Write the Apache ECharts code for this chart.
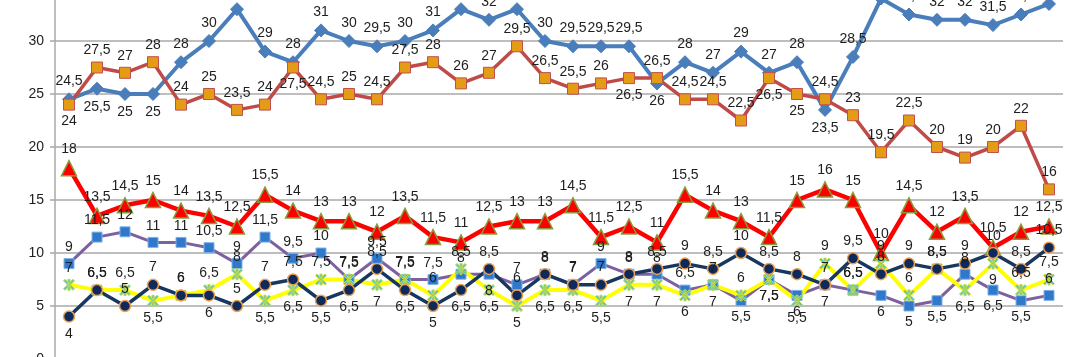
<!DOCTYPE html>
<html>
<head>
<meta charset="utf-8">
<script src="https://cdn.jsdelivr.net/npm/echarts@6/dist/echarts.min.js"></script>
<style>
html,body{margin:0;padding:0;background:#fff;overflow:hidden;width:1070px;height:357px;}
#c{position:absolute;left:0;top:-19px;width:1070px;height:390px;}
</style>
</head>
<body>
<div id="c"></div>
<script>
var categories = ['1','2','3','4','5','6','7','8','9','10','11','12','13','14','15','16','17','18','19','20','21','22','23','24','25','26','27','28','29','30','31','32','33','34','35','36'];
var yTicks = [0, 5, 10, 15, 20, 25, 30, 35];

var blueValues   = [24.5,25.5,25,25,28,30,33,29,28,31,30,29.5,30,31,33,32,33,30,29.5,29.5,29.5,26,28,27,29,27,28,23.5,28.5,34,32.5,32,32,31.5,32.5,33.5];
var orangeValues = [24,27.5,27,28,24,25,23.5,24,27.5,24.5,25,24.5,27.5,28,26,27,29.5,26.5,25.5,26,26.5,26.5,24.5,24.5,22.5,26.5,25,24.5,23,19.5,22.5,20,19,20,22,16];
var redValues    = [18,13.5,14.5,15,14,13.5,12.5,15.5,14,13,13,12,13.5,11.5,11,12.5,13,13,14.5,11.5,12.5,11,15.5,14,13,11.5,15,16,15,10,14.5,12,13.5,10.5,12,12.5];
var purpleValues = [9,11.5,12,11,11,10.5,9,11.5,9.5,10,7.5,9.5,7.5,7.5,8,8,7,8,7,9,8,8,6.5,7,5.5,7.5,6,7,6.5,6,5,5.5,8,6.5,5.5,6];
var navyValues   = [4,6.5,5,7,6,6,5,7,7.5,5.5,6.5,8.5,6.5,5,6.5,8.5,6,8,7,7,8,8.5,9,8.5,10,8.5,8,7,9.5,8,9,8.5,9,10,8.5,10.5];
var yellowValues = [7,6.5,6.5,5.5,6,6.5,8,5.5,6.5,7.5,7.5,7,7.5,6,8.5,6.5,5,6.5,6.5,5.5,7,7,6,7,6,7.5,5.5,9,6.5,9,6,8.5,6.5,9,6.5,7.5];

// label placement per point (t = above, b = below) -- styling only
var blueLabelPos   = 't' + 'bbb' + 'ttttttttttttttttt' + 'b' + 'ttttt' + 'b' + 'tttttttt';
var orangeLabelPos = 'b' + 'ttttttt' + 'b' + 'ttttttttttt' + 'b' + 'tttt' + 'bb' + 'ttttttttt';
var redLabelPos    = 'tttttttttttttttttttttttttttttttttttt';
var purpleLabelPos = 'ttttttttttttttt' + 'b' + 'tttttttt' + 'bbb' + 'tt' + 'bbb' + 't' + 'bb' + 't';
var navyLabelPos   = 'b' + 'tttt' + 'b' + 'ttt' + 'bb' + 't' + 'bbb' + 'tttttttttttt' + 'b' + 'tttttttt';
var yellowLabelPos = 'ttt' + 'b' + 'ttt' + 'bb' + 'tt' + 'b' + 'ttt' + 'bbbbbbbbb' + 't' + 'bb' + 'ttttt' + 'bb' + 'tt';

function items(vals, pos) {
  return vals.map(function (v, i) {
    return { value: v, label: { position: pos.charAt(i) === 'b' ? 'bottom' : 'top' } };
  });
}

var labelStyle = {
  show: true,
  fontFamily: 'Liberation Sans, Arial, sans-serif',
  fontSize: 14,
  color: '#1e1e1e',
  distance: 4,
  formatter: function (p) { return String(p.value).replace('.', ','); }
};

var starPath = 'path://M4 0 L6 0 L6 10 L4 10 Z M0 1.4 L1.4 0 L10 8.6 L8.6 10 Z M1.4 10 L0 8.6 L8.6 0 L10 1.4 Z';

function series(name, vals, pos, lineColor, lineWidth, symbol, size, fill, border, bw) {
  return {
    name: name,
    type: 'line',
    data: items(vals, pos),
    symbol: symbol,
    symbolSize: size,
    showAllSymbol: true,
    lineStyle: { color: lineColor, width: lineWidth },
    itemStyle: { color: fill, borderColor: border, borderWidth: bw },
    label: labelStyle,
    emphasis: { disabled: true },
    animation: false
  };
}

var chart = echarts.init(document.getElementById('c'), null, { renderer: 'canvas' });
chart.setOption({
  animation: false,
  backgroundColor: '#ffffff',
  grid: { left: 55, top: 0, width: 1008, height: 378, containLabel: false },
  xAxis: {
    type: 'category',
    data: categories,
    boundaryGap: true,
    axisLine: { show: false },
    axisTick: { show: false },
    axisLabel: { show: false },
    splitLine: { show: false }
  },
  yAxis: {
    type: 'value',
    min: yTicks[0],
    max: yTicks[yTicks.length - 1],
    interval: 5,
    axisLine: { show: true, lineStyle: { color: '#a8a8a8', width: 1.5 } },
    axisTick: { show: true, length: 5, lineStyle: { color: '#a8a8a8', width: 1.5 } },
    axisLabel: {
      margin: 11,
      fontFamily: 'Liberation Sans, Arial, sans-serif',
      fontSize: 14,
      color: '#1e1e1e'
    },
    splitLine: { show: true, lineStyle: { color: '#a8a8a8', width: 1.5 } }
  },
  series: [
    series('A', blueValues, blueLabelPos, '#4a7ebb', 4, 'diamond', 13, '#4a7ebb', '#4a7ebb', 1),
    series('B', orangeValues, orangeLabelPos, '#be4b48', 3.5, 'rect', 11, '#e49b16', '#c0504d', 1),
    series('C', redValues, redLabelPos, '#ff0000', 4.5, 'triangle', 15, '#ff0000', '#8a9a3a', 1.5),
    series('D', purpleValues, purpleLabelPos, '#7d60a0', 3, 'rect', 10, '#2f78cc', '#7fb2e5', 1),
    series('E', yellowValues, yellowLabelPos, '#ffff00', 4, starPath, 11, '#5cc4c4', '#c0dc40', 1),
    series('F', navyValues, navyLabelPos, '#17375e', 3.5, 'circle', 11, '#0d2a5c', '#f0a050', 1.5)
  ]
});
</script>
</body>
</html>
